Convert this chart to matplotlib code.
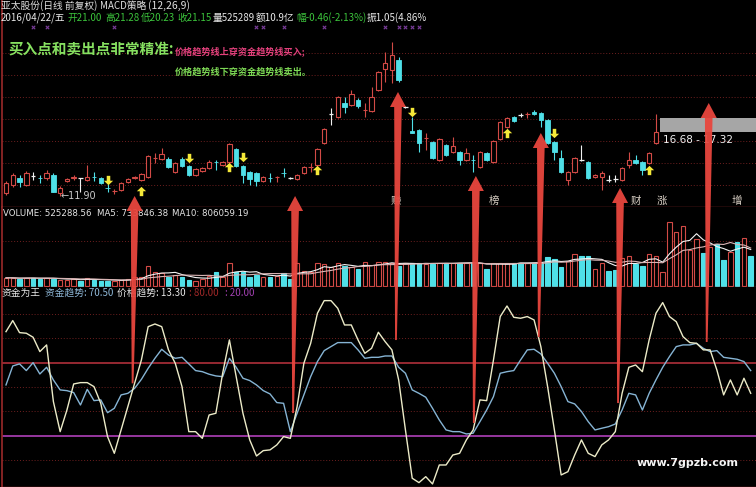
import numpy as np
import pandas as pd
import matplotlib
matplotlib.use("Agg")
import matplotlib.pyplot as plt
from matplotlib.patches import Rectangle, Polygon
from matplotlib.path import Path

plt.rcParams['font.family'] = ['Noto Sans CJK SC', 'DejaVu Sans']

# ---------------- data ----------------
opens = [12.05, 12.45, 12.8, 12.45, 12.92, 12.82, 12.8, 12.95, 12.05, 12.65,
         12.8, 12.8, 12.7, 12.87, 12.8, 12.32, 12.13, 12.2, 12.6, 12.8,
         12.7, 12.85, 13.78, 13.75, 13.75, 13.1, 13.75, 13.4, 12.95, 13.15,
         13.3, 13.62, 13.45, 13.6, 14.25, 13.4, 13.1, 13.05, 12.65, 12.82,
         12.83, 13.07, 12.8, 12.75, 13.05, 13.33, 13.45, 14.55, 16.0, 15.85,
         16.55, 16.45, 16.7, 16.18, 16.15, 17.2, 18.25, 18.2, 18.7, 16.35,
         15.13, 15.2, 14.78, 14.6, 13.7, 14.45, 14.1, 14.1, 13.7, 13.72,
         13.35, 14.05, 13.6, 14.75, 15.35, 15.85, 15.95, 15.98, 16.1, 16.05,
         15.7, 14.6, 13.8, 12.7, 13.1, 13.7, 13.6, 12.85, 12.85, 12.7,
         12.75, 12.7, 13.45, 13.7, 13.6, 13.55, 14.55]
closes = [12.55, 12.95, 12.6, 13.05, 12.92, 12.78, 13.05, 12.1, 12.3, 12.75,
          12.85, 12.8, 12.85, 12.83, 12.55, 12.28, 12.17, 12.55, 12.75, 12.85,
          13.0, 13.9, 13.82, 14.0, 13.35, 13.55, 13.4, 12.95, 13.25, 13.3,
          13.6, 13.58, 13.6, 14.5, 13.4, 12.95, 12.75, 12.65, 12.85, 12.78,
          12.87, 13.03, 12.8, 12.95, 13.35, 13.37, 14.25, 15.25, 16.0, 16.85,
          16.35, 17.0, 16.4, 16.22, 16.85, 18.1, 18.55, 18.95, 17.7, 16.35,
          15.07, 14.55, 14.82, 13.8, 14.75, 13.95, 14.4, 13.7, 14.05, 13.68,
          14.1, 13.7, 14.65, 15.6, 15.8, 15.65, 15.95, 16.02, 16.0, 15.7,
          14.55, 14.1, 13.1, 13.1, 13.8, 13.7, 12.8, 12.95, 13.05, 12.7,
          12.75, 13.3, 13.7, 13.55, 13.2, 14.05, 15.1]
highs = [12.65, 13.05, 12.95, 13.15, 13.1, 12.95, 13.2, 13.05, 12.4, 12.8,
         12.95, 12.82, 13.45, 13.1, 12.85, 12.5, 12.25, 12.6, 12.8, 12.9,
         13.05, 13.95, 14.05, 14.3, 13.85, 13.6, 13.85, 13.45, 13.3, 13.35,
         13.7, 13.7, 13.65, 14.55, 14.3, 13.45, 13.15, 13.1, 12.9, 13.05,
         12.9, 13.3, 12.85, 13.0, 13.4, 13.55, 14.3, 15.3, 16.3, 16.9,
         16.85, 17.2, 16.8, 16.55, 17.35, 18.15, 19.1, 19.6, 18.85, 16.4,
         15.85, 15.25, 15.05, 14.65, 14.8, 14.5, 14.85, 14.15, 14.3, 13.95,
         14.15, 14.1, 14.7, 15.65, 15.85, 15.9, 16.05, 16.1, 16.2, 16.1,
         15.75, 14.65, 14.2, 13.15, 13.85, 14.45, 13.65, 13.0, 13.15, 12.95,
         12.95, 13.35, 14.1, 13.95, 13.65, 14.1, 16.0]
lows = [11.95, 12.35, 12.35, 12.4, 12.7, 12.55, 12.7, 12.1, 11.9, 12.6,
        12.7, 12.1, 12.65, 12.65, 12.5, 12.1, 12.0, 12.15, 12.55, 12.75,
        12.65, 12.8, 13.55, 13.7, 13.3, 13.05, 13.35, 12.9, 12.9, 13.1,
        13.25, 13.2, 13.4, 13.55, 13.35, 12.55, 12.45, 12.4, 12.6, 12.6,
        12.6, 12.85, 12.75, 12.7, 13.0, 13.1, 13.4, 14.5, 15.45, 15.8,
        16.05, 16.4, 16.3, 15.85, 16.1, 17.15, 17.6, 17.55, 17.6, 16.3,
        15.05, 14.1, 14.2, 13.75, 13.65, 13.9, 14.05, 13.45, 13.65, 13.1,
        13.3, 13.65, 13.55, 14.7, 15.3, 15.6, 15.85, 15.8, 15.95, 15.35,
        14.5, 13.7, 13.05, 12.45, 13.05, 13.65, 12.75, 12.8, 12.2, 12.6,
        12.6, 12.65, 13.3, 13.5, 12.95, 13.5, 14.5]

# volume in units of 10,000 shares
volume_wan = [23, 23, 20, 23, 23, 20, 23, 20, 17, 17,
              19, 15, 23, 17, 15, 15, 13, 17, 20, 25,
              25, 60, 40, 37, 27, 33, 27, 17, 15, 20,
              30, 40, 27, 67, 40, 40, 27, 33, 27, 27,
              30, 37, 20, 67, 43, 40, 67, 65, 55, 67,
              60, 55, 50, 70, 63, 70, 70, 67, 60, 67,
              67, 67, 65, 65, 67, 69, 67, 69, 67, 69,
              67, 50, 67, 67, 67, 69, 69, 67, 69, 69,
              85, 80, 57, 75, 95, 90, 90, 50, 67, 45,
              47, 83, 90, 65, 60, 95, 90, 40, 190, 160,
              180, 107, 140, 97, 115, 125, 77, 100, 130, 143, 90]
volume_dir = ("uududduduu" "ududdduuuu" "uuuududduu" "uduuddddud" "udduuuuuuu"
              "duduuuuudu" "ddudududud" "uduuuddudd" "ddduudduud" "duudduuuuu"
              "uuududdudud")

fund_trend = [61.7, 77.3, 79.0, 73.5, 80.0, 70.7, 76.2, 65.8, 57.6, 57.0,
              55.4, 45.2, 58.1, 48.8, 49.4, 38.9, 42.5, 53.5, 54.8, 58.9,
              66.3, 75.4, 83.6, 91.0, 86.3, 83.6, 84.4, 79.0, 73.5, 72.6,
              70.5, 69.1, 68.5, 83.6, 76.2, 67.2, 65.3, 61.7, 57.0, 54.3,
              47.2, 46.6, 23.3, 38.4, 53.5, 68.5, 80.9, 89.9, 93.2, 96.5,
              96.5, 96.5, 90.5, 83.6, 84.4, 84.4, 85.5, 85.5, 76.2, 71.3,
              57.6, 54.8, 51.6, 42.5, 32.9, 24.7, 23.3, 23.3, 21.4, 22.0,
              31.5, 41.1, 52.1, 71.3, 72.6, 73.5, 82.2, 90.5, 91.0, 87.2,
              79.5, 71.3, 60.3, 48.0, 46.1, 39.8, 31.5, 24.7, 26.1, 27.4,
              29.6, 41.1, 54.8, 53.5, 41.1, 54.8, 65.8, 76.2, 85.0, 93.2,
              94.6, 94.6, 95.9, 91.8, 89.1, 89.9, 84.4, 83.6, 82.8, 80.9, 73.5]
price_trend = [105.5, 114.6, 104.7, 104.2, 100.9, 89.1, 94.6, 48.0, 23.3, 41.1,
               62.5, 63.6, 63.6, 60.3, 46.6, 19.2, 5.5, 24.7, 43.9, 63.1,
               82.2, 109.6, 111.8, 109.6, 90.5, 79.5, 60.3, 23.3, 23.3, 17.8,
               37.0, 38.4, 71.3, 98.7, 68.5, 38.4, 16.5, 3.3, 7.7, 8.3,
               12.4, 19.2, 17.8, 43.9, 79.5, 95.9, 120.6, 131.0, 131.0, 124.7,
               111.0, 111.0, 98.7, 87.7, 91.8, 105.0, 97.3, 90.5, 65.8, 24.7,
               -15.0, -18.6, -13.7, -19.7, -4.1, -4.1, 4.1, 5.5, 16.5, 24.7,
               49.4, 48.8, 82.2, 117.9, 126.6, 117.3, 116.5, 117.9, 115.1, 93.2,
               60.3, 24.7, -12.3, -9.6, 4.1, 16.5, 5.5, 2.8, 12.4, 16.5,
               23.3, 54.8, 76.2, 78.1, 72.6, 98.7, 120.6, 129.4, 117.9, 113.7,
               101.4, 96.5, 95.9, 90.5, 90.5, 74.0, 53.5, 65.8, 53.5, 67.2, 54.8]

buy_signal_bars = [20, 33, 46, 74, 95]
buy_signal_prices = [12.15, 13.35, 13.2, 15.05, 13.2]
sell_signal_bars = [15, 27, 35, 60, 81]
sell_signal_prices = [12.7, 13.8, 13.85, 16.1, 15.05]
marker_bars = [4, 6, 16, 37, 38, 41, 47, 56, 58, 59, 60, 61]

# big red arrows: bar position, price at tip, oscillator value at tail
arrow_bars = [19.0, 42.7, 57.9, 69.4, 79.0, 90.7, 103.8]
arrow_tip_prices = [11.9, 11.9, 17.1, 12.9, 15.05, 12.3, 16.55]
arrow_tail_values = [63.0, 38.6, 98.6, 30.4, 101.0, 46.8, 97.0]

# ---------------- style ----------------
W, H = 756, 487
RED = '#d24a46'
CYAN = '#4fe0e8'
WHITE = '#f0f0f0'
GRIDRED = '#6e1f1f'
BORDER = '#9a2a2a'

fig = plt.figure(figsize=(W / 100, H / 100), dpi=100, facecolor='black')

def axes_px(top, bottom, left=2, right=W):
    return fig.add_axes([left / W, 1 - bottom / H, (right - left) / W, (bottom - top) / H])

xmin, xmax = -0.59, 110.78
ax_p = axes_px(0, 207)
ax_v = axes_px(207, 287)
ax_o = axes_px(287, 487)
for a in (ax_p, ax_v, ax_o):
    a.set_facecolor('black')
    a.set_xlim(xmin, xmax)
    a.set_xticks([])
    a.set_yticks([])
    for s in ('top', 'right'):
        a.spines[s].set_visible(False)
    a.spines['left'].set_color(BORDER)
    a.spines['bottom'].set_color(BORDER)
    a.spines['left'].set_linewidth(1.2)
    a.spines['bottom'].set_linewidth(1.0)

# ---------------- price panel ----------------
ax_p.set_ylim(11.35, 21.7)
for g in [12.45, 13.55, 14.65, 15.75, 16.85, 17.95, 19.05]:
    ax_p.axhline(g, color=GRIDRED, lw=0.7, ls=(0, (1, 2)), zorder=0)

n = len(opens)
w = 0.66
for i in range(n):
    o, c, h, l = opens[i], closes[i], highs[i], lows[i]
    if o == c:
        ax_p.vlines(i, l, h, color=WHITE, lw=0.8, zorder=3)
        ax_p.hlines(o, i - w / 2, i + w / 2, color=WHITE, lw=0.9, zorder=3)
    elif c > o:
        ax_p.vlines(i, c, h, color=RED, lw=0.8, zorder=3)
        ax_p.vlines(i, l, o, color=RED, lw=0.8, zorder=3)
        ax_p.add_patch(Rectangle((i - w / 2, o), w, c - o, facecolor='black',
                                 edgecolor=RED, lw=0.8, zorder=3))
    else:
        ax_p.vlines(i, l, h, color=CYAN, lw=0.8, zorder=3)
        ax_p.add_patch(Rectangle((i - w / 2, c), w, o - c, facecolor=CYAN,
                                 edgecolor=CYAN, lw=0.6, zorder=3))

up_arrow = Path([(0, 1), (-1, 0.05), (-0.38, 0.05), (-0.38, -1), (0.38, -1),
                 (0.38, 0.05), (1, 0.05), (0, 1)], closed=True)
down_arrow = Path([(0, -1), (-1, -0.05), (-0.38, -0.05), (-0.38, 1), (0.38, 1),
                   (0.38, -0.05), (1, -0.05), (0, -1)], closed=True)
ax_p.scatter(buy_signal_bars, buy_signal_prices, marker=up_arrow, s=45,
             color='#f4e838', linewidths=0, zorder=5)
ax_p.scatter(sell_signal_bars, sell_signal_prices, marker=down_arrow, s=45,
             color='#f4e838', linewidths=0, zorder=5)
ax_p.scatter(marker_bars, [20.35] * len(marker_bars), marker='x', s=6,
             color='#7a3c9a', linewidths=0.8, zorder=4)

ax_p.text(8.1, 11.9, '←11.90', color='#c8c8c8', fontsize=7,
          ha='left', va='center', family=['DejaVu Sans'])

# gray range box at right
ax_p.add_patch(Rectangle((96.6, 15.1), xmax - 96.6, 0.7, facecolor='#a6a6a6',
                         edgecolor='none', zorder=2))
ax_p.text(97.1, 14.7, '16.68 - 17.32', color=WHITE, fontsize=7.5,
          ha='left', va='center', family=['DejaVu Sans'])

# ---------------- volume panel ----------------
vol = np.array(volume_wan) * 1e4
xv = np.arange(len(vol))
ax_v.set_ylim(-4.5e4, 235.5e4)
ax_v.axhline(135e4, color=GRIDRED, lw=0.7, ls=(0, (1, 2)), zorder=0)
fc = [CYAN if d == 'd' else 'black' for d in volume_dir]
ec = [CYAN if d == 'd' else RED for d in volume_dir]
ax_v.bar(xv, vol, width=0.66, bottom=0, color=fc, edgecolor=ec, linewidth=0.8, zorder=2)
ma5 = pd.Series(vol).rolling(5, min_periods=1).mean()
ma10 = pd.Series(vol).rolling(10, min_periods=1).mean()
ax_v.plot(xv, ma5, color='#f4f4f4', lw=0.8, zorder=3)
ax_v.plot(xv, ma10, color='#d9b4b4', lw=0.8, zorder=3)

# ---------------- oscillator panel ----------------
ax_o.set_ylim(-22.2, 142.2)
for g in [0, 40, 60, 100, 120]:
    ax_o.axhline(g, color=GRIDRED, lw=0.7, ls=(0, (1, 2)), zorder=0)
ax_o.axhline(80, color='#b0303a', lw=1.2, zorder=1)
ax_o.axhline(20, color='#b040b8', lw=1.2, zorder=1)
xo = np.arange(len(fund_trend))
ax_o.plot(xo, fund_trend, color='#86b4d4', lw=1.0, zorder=3)
ax_o.plot(xo, price_trend, color='#ecebc8', lw=1.0, zorder=4)

# ---------------- texts ----------------
def ftext(x, y, s, **kw):
    kw.setdefault('va', 'center')
    kw.setdefault('ha', 'left')
    fig.text(x / W, 1 - y / H, s, **kw)

ftext(1, 6, '亚太股份(日线 前复权)', color='#e0e0e0', fontsize=7)
ftext(100, 6, 'MACD策略', color='#e0e0e0', fontsize=7)
ftext(148, 6, '(12,26,9)', color='#e0e0e0', fontsize=7.5)
parts = [(1, '2016/04/22/五', '#e8e8e8'), (67, '开21.00', '#3cc43c'),
         (105, '高21.28', '#3cc43c'), (141, '低20.23', '#3cc43c'),
         (177, '收21.15', '#3cc43c'), (213, '量525289', '#e8e8e8'),
         (256, '额10.9亿', '#e8e8e8'), (296, '幅-0.46(-2.13%)', '#3cc43c'),
         (367, '振1.05(4.86%', '#e8e8e8')]
for x0, s, col in parts:
    ftext(x0, 18, s, color=col, fontsize=7)

ftext(8, 49, '买入点和卖出点非常精准:', color='#86e060', fontsize=10.5, fontweight='bold')
ftext(175, 51, '价格趋势线上穿资金趋势线买入;', color='#e2407c', fontsize=6.6, fontweight='bold')
ftext(175, 72, '价格趋势线下穿资金趋势线卖出。', color='#7cd854', fontsize=6.6, fontweight='bold')

for x0, s in [(391, '赚'), (489, '榜'), (631, '财'), (657, '涨'), (732, '增')]:
    ftext(x0, 201, s, color='#d8cfc4', fontsize=7.5)

ftext(3, 214, 'VOLUME: 525288.56', color='#e6e6e6', fontsize=6.2, family=['DejaVu Sans'])
ftext(97, 214, 'MA5: 733846.38', color='#e6e6e6', fontsize=6.2, family=['DejaVu Sans'])
ftext(172, 214, 'MA10: 806059.19', color='#e6e6e6', fontsize=6.2, family=['DejaVu Sans'])

ftext(2, 293, '资金为王', color='#e6e6e6', fontsize=7)
ftext(45, 293, '资金趋势: 70.50', color='#8fb8d8', fontsize=7)
ftext(117, 293, '价格趋势: 13.30', color='#e6e6e6', fontsize=7)
ftext(189, 293, ': 80.00', color='#a02828', fontsize=7)
ftext(225, 293, ': 20.00', color='#a040b0', fontsize=7)

ftext(637, 463, 'www.7gpzb.com', color='#f4f4f4', fontsize=8, fontweight='bold',
      family=['DejaVu Sans'])

# ---------------- big red arrows overlay ----------------
ov = fig.add_axes([0, 0, 1, 1], zorder=10)
ov.set_xlim(0, W)
ov.set_ylim(H, 0)
ov.axis('off')
ov.patch.set_alpha(0)

def to_px(ax, x, y):
    dx, dy = ax.transData.transform((x, y))
    return dx, H - dy

for b, tp, tv in zip(arrow_bars, arrow_tip_prices, arrow_tail_values):
    xt, yt = to_px(ax_p, b, tp)
    xb, yb = to_px(ax_o, b - 0.3, tv)
    hl, hw, sw, bw = 15, 8, 3.8, 0.9
    verts = [(xt, yt), (xt + hw, yt + hl), (xt + sw, yt + hl), (xb + bw, yb),
             (xb - bw, yb), (xt - sw, yt + hl), (xt - hw, yt + hl)]
    ov.add_patch(Polygon(verts, closed=True, facecolor='#e8463e', edgecolor='none',
                         alpha=0.95))

fig.savefig('out.png', dpi=100, facecolor='black')
